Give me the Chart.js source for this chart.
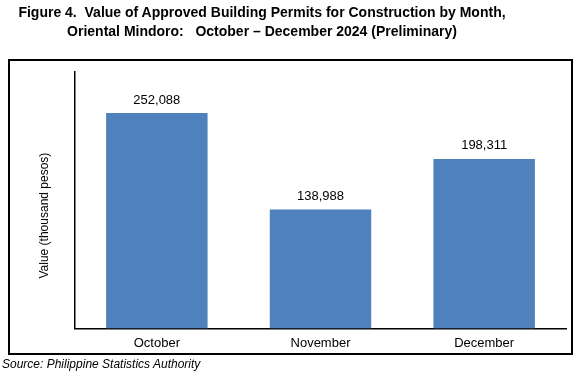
<!DOCTYPE html>
<html>
<head>
<meta charset="utf-8">
<script src="https://cdn.jsdelivr.net/npm/chart.js@4/dist/chart.umd.min.js"></script>
<style>
  body { margin: 0; background: #fff; }
  #wrap { position: relative; width: 582px; height: 372px; font-family: "Liberation Sans", Arial, sans-serif; }
  #title { position: absolute; left: 0; top: 3px; width: 524px; text-align: center; font-weight: bold; font-size: 14px; line-height: 19px; white-space: pre; color: #000; }
  #source { position: absolute; left: 2px; top: 357px; font-style: italic; font-size: 12px; color: #000; }
  canvas { position: absolute; left: 0; top: 0; }
</style>
</head>
<body>
<div id="wrap">
  <canvas id="permitChart" width="582" height="372"></canvas>
  <div id="title">Figure 4.  Value of Approved Building Permits for Construction by Month,
Oriental Mindoro:   October – December 2024 (Preliminary)</div>
  <div id="source">Source: Philippine Statistics Authority</div>
</div>
<script>
/*--data--*/
var months = ["October", "November", "December"];
var permitValues = [252088, 138988, 198311];
var yAxisTitle = "Value (thousand pesos)";

/*--outer frame, y title and value labels--*/
var framePlugin = {
  id: 'frame',
  beforeDraw: function(chart) {
    var ctx = chart.ctx;
    var area = chart.chartArea;
    ctx.save();
    ctx.strokeStyle = '#000';
    ctx.lineWidth = 2;
    ctx.strokeRect(9, 60, 563, 294);
    // y axis title, sits a bit below the middle like the original
    ctx.translate(45, area.top + (area.bottom - area.top) * 0.56);
    ctx.rotate(-Math.PI / 2);
    ctx.font = '12px "Liberation Sans", Arial, sans-serif';
    ctx.fillStyle = '#000';
    ctx.textAlign = 'center';
    ctx.textBaseline = 'middle';
    ctx.fillText(yAxisTitle, 0, 0);
    ctx.restore();
  }
};

var valueLabels = {
  id: 'valueLabels',
  afterDatasetsDraw: function(chart) {
    var ctx = chart.ctx;
    var meta = chart.getDatasetMeta(0);
    ctx.save();
    ctx.font = '13px "Liberation Sans", Arial, sans-serif';
    ctx.fillStyle = '#000';
    ctx.textAlign = 'center';
    ctx.textBaseline = 'middle';
    meta.data.forEach(function(bar, i) {
      ctx.fillText(permitValues[i].toLocaleString('en-US'), bar.x, bar.y - 13);
    });
    ctx.restore();
  }
};

var permitChart = new Chart(document.getElementById('permitChart'), {
  type: 'bar',
  data: {
    labels: months,
    datasets: [{
      data: permitValues,
      backgroundColor: '#4F81BD',
      borderWidth: 0,
      barPercentage: 0.62,
      categoryPercentage: 1
    }]
  },
  options: {
    responsive: false,
    animation: false,
    devicePixelRatio: 1,
    layout: {
      padding: { left: 75, top: 72, right: 16, bottom: 14 }
    },
    plugins: {
      legend: { display: false },
      tooltip: { enabled: false }
    },
    scales: {
      x: {
        grid: { display: false, drawTicks: false, tickLength: 0 },
        border: { color: '#000', width: 1.5 },
        ticks: {
          color: '#000',
          padding: 7,
          font: { family: '"Liberation Sans", Arial, sans-serif', size: 13 }
        }
      },
      y: {
        min: 0,
        max: 300000,
        grid: { display: false, drawTicks: false, tickLength: 0 },
        border: { color: '#000', width: 1.5 },
        ticks: { display: false }
      }
    }
  },
  plugins: [framePlugin, valueLabels]
});
</script>
</body>
</html>
